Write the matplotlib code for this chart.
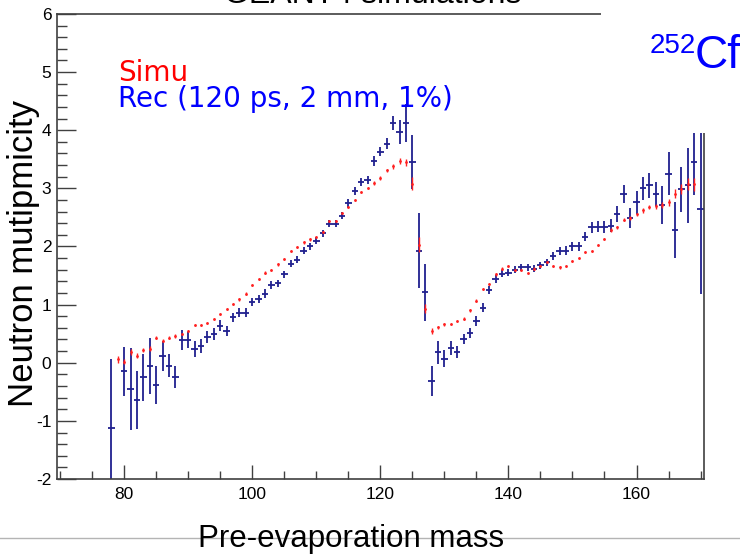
import numpy as np
import matplotlib
matplotlib.use('Agg')
import matplotlib.pyplot as plt
from matplotlib.patches import Rectangle
from matplotlib.ticker import MultipleLocator

plt.rcParams['axes.unicode_minus'] = False

# Simu (red points)
simu_mass = list(range(79, 170))
simu_val = [0.06, 0.02, 0.18, 0.12, 0.22, 0.24, 0.43, 0.38, 0.43, 0.46,
            0.49, 0.55, 0.65, 0.65, 0.68, 0.75, 0.84, 0.93, 1.01, 1.09,
            1.19, 1.34, 1.44, 1.55, 1.59, 1.69, 1.79, 1.92, 1.99, 2.07,
            2.12, 2.16, 2.25, 2.44, 2.44, 2.57, 2.68, 2.80, 2.94, 3.01,
            3.09, 3.18, 3.31, 3.38, 3.47, 3.45, 3.08, 2.03, 0.93, 0.55,
            0.61, 0.66, 0.67, 0.72, 0.76, 0.90, 1.07, 1.27, 1.36, 1.52,
            1.62, 1.66, 1.59, 1.59, 1.54, 1.62, 1.66, 1.73, 1.66, 1.64,
            1.66, 1.75, 1.80, 1.90, 1.92, 2.02, 2.13, 2.28, 2.33, 2.46,
            2.49, 2.55, 2.62, 2.68, 2.69, 2.71, 2.76, 2.91, 2.99, 3.07,
            3.07]
simu_err = [0.06, 0.05, 0.05, 0.04, 0.04, 0.04, 0.03, 0.03, 0.03, 0.03,
            0.02, 0.02, 0.02, 0.02, 0.02, 0.02, 0.02, 0.02, 0.02, 0.02,
            0.02, 0.02, 0.02, 0.02, 0.02, 0.02, 0.02, 0.02, 0.02, 0.02,
            0.02, 0.02, 0.02, 0.02, 0.02, 0.02, 0.02, 0.02, 0.02, 0.02,
            0.03, 0.03, 0.03, 0.04, 0.05, 0.06, 0.11, 0.13, 0.08, 0.05,
            0.03, 0.02, 0.02, 0.02, 0.02, 0.02, 0.02, 0.02, 0.02, 0.02,
            0.02, 0.02, 0.02, 0.02, 0.02, 0.02, 0.02, 0.02, 0.02, 0.02,
            0.02, 0.02, 0.02, 0.02, 0.02, 0.02, 0.02, 0.03, 0.03, 0.03,
            0.03, 0.03, 0.04, 0.04, 0.04, 0.05, 0.06, 0.07, 0.08, 0.10,
            0.11]

# Rec (blue crosses)
rec_mass = [78] + list(range(80, 171))
rec_val = [-1.13, -0.15, -0.45, -0.64, -0.25, -0.05, -0.38, 0.12, -0.05, -0.24,
           0.39, 0.39, 0.24, 0.28, 0.44, 0.49, 0.64, 0.55, 0.78, 0.86,
           0.86, 1.04, 1.10, 1.19, 1.33, 1.37, 1.52, 1.70, 1.77, 1.93,
           2.00, 2.10, 2.23, 2.39, 2.39, 2.53, 2.74, 2.95, 3.11, 3.15,
           3.47, 3.63, 3.77, 4.12, 3.97, 4.12, 3.45, 1.93, 1.21, -0.32,
           0.18, 0.07, 0.26, 0.18, 0.41, 0.51, 0.72, 0.95, 1.25, 1.44,
           1.53, 1.55, 1.60, 1.64, 1.64, 1.62, 1.68, 1.73, 1.84, 1.92,
           1.93, 2.00, 2.00, 2.17, 2.33, 2.34, 2.33, 2.36, 2.56, 2.90,
           2.49, 2.76, 3.00, 3.05, 2.90, 2.71, 3.25, 2.28, 2.98, 3.05,
           3.45, 2.65]
rec_err = [1.20, 0.42, 0.70, 0.50, 0.40, 0.48, 0.33, 0.26, 0.20, 0.19,
           0.17, 0.14, 0.14, 0.12, 0.10, 0.10, 0.09, 0.09, 0.08, 0.08,
           0.08, 0.07, 0.07, 0.07, 0.07, 0.06, 0.06, 0.06, 0.06, 0.06,
           0.06, 0.06, 0.06, 0.06, 0.06, 0.06, 0.07, 0.07, 0.07, 0.07,
           0.08, 0.08, 0.10, 0.12, 0.20, 0.33, 0.46, 0.65, 0.49, 0.26,
           0.20, 0.15, 0.12, 0.10, 0.09, 0.08, 0.08, 0.07, 0.07, 0.07,
           0.06, 0.06, 0.06, 0.06, 0.06, 0.06, 0.06, 0.06, 0.07, 0.07,
           0.07, 0.07, 0.07, 0.08, 0.09, 0.09, 0.10, 0.11, 0.14, 0.16,
           0.17, 0.20, 0.20, 0.21, 0.21, 0.33, 0.37, 0.48, 0.39, 0.64,
           0.57, 1.47]

axis_col = '#404040'

fig = plt.figure(figsize=(7.4, 5.57), dpi=100)
ax = fig.add_axes([0.077, 0.140, 0.874, 0.835])

ax.errorbar(rec_mass, rec_val, yerr=rec_err, xerr=0.5, fmt='none',
            ecolor='#20208f', elinewidth=1.3, capsize=0, zorder=2)
ax.errorbar(simu_mass, simu_val, yerr=simu_err, fmt='o', ms=2.0,
            color='#ff2020', mec='none', elinewidth=1.0, capsize=0, zorder=3)

ax.set_xlim(69.5, 170.5)
ax.set_ylim(-2, 6)
ax.xaxis.set_major_locator(MultipleLocator(20))
ax.xaxis.set_minor_locator(MultipleLocator(5))
ax.yaxis.set_major_locator(MultipleLocator(1))
ax.yaxis.set_minor_locator(MultipleLocator(0.2))
ax.tick_params(axis='x', which='major', direction='in', length=10, width=1,
               color=axis_col, pad=6, labelsize=12.5)
ax.tick_params(axis='x', which='minor', direction='in', length=5.5, width=1,
               color=axis_col)
ax.tick_params(axis='y', which='major', direction='in', length=14, width=1,
               color=axis_col, pad=4, labelsize=12.5)
ax.tick_params(axis='y', which='minor', direction='in', length=7, width=1,
               color=axis_col)
for lab in ax.get_xticklabels() + ax.get_yticklabels():
    lab.set_family('Liberation Sans')
for sp in ax.spines.values():
    sp.set_color(axis_col)
    sp.set_linewidth(1.2)

# white text box of the slide covering the top right corner
fig.patches.append(Rectangle((0.812, 0.761), 0.19, 0.24, transform=fig.transFigure,
                             facecolor='white', edgecolor='none', zorder=5))

fig.text(0.504, 1 - 3 / 557, 'GEANT4 simulations', ha='center', va='baseline',
         fontsize=23, family='Liberation Sans', color='black')
fig.text(0.878, 1 - 53 / 557, '252', ha='left', va='baseline', fontsize=20,
         family='Liberation Sans', color='#0000ff', zorder=6)
fig.text(0.939, 1 - 68 / 557, 'Cf', ha='left', va='baseline', fontsize=33,
         family='Liberation Sans', color='#0000ff', zorder=6)

fig.text(0.159, 1 - 80.7 / 557, 'Simu', ha='left', va='baseline', fontsize=20,
         family='DejaVu Sans', color='#ff0000')
fig.text(0.159, 1 - 107.3 / 557, 'Rec (120 ps, 2 mm, 1%)', ha='left',
         va='baseline', fontsize=20, family='DejaVu Sans', color='#0000ff')

# slide separator line behind the x label
fig.add_artist(plt.Line2D([0, 1], [1 - 538 / 557, 1 - 538 / 557],
                          transform=fig.transFigure, color='#b4b4b4', lw=1))
fig.text(0.474, 1 - 547 / 557, 'Pre-evaporation mass', ha='center',
         va='baseline', fontsize=22.5, family='Liberation Sans')
fig.text(0.032, 1 - 253 / 557, 'Neutron mutipmicity', ha='center',
         va='center', rotation=90, fontsize=25, family='Liberation Sans')

fig.savefig('out.png', dpi=100)
